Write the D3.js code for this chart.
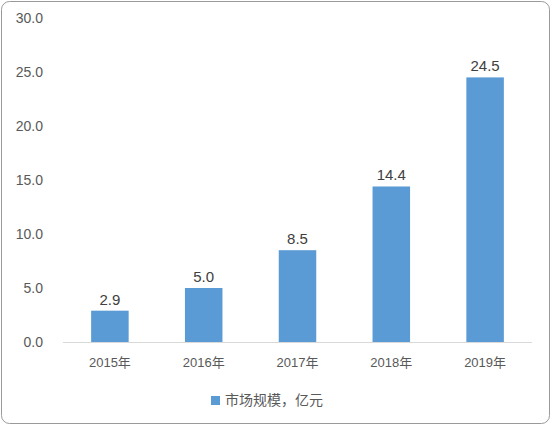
<!DOCTYPE html>
<html lang="zh">
<head>
<meta charset="UTF-8">
<script src="https://d3js.org/d3.v7.min.js"></script>
<style>
  body { margin: 0; background: #fff; }
  text { font-family: "Liberation Sans", "Noto Sans CJK SC", sans-serif; fill: #595959; }
</style>
</head>
<body>
<svg id="chart" width="552" height="426"></svg>
<script>
const years = ["2015年", "2016年", "2017年", "2018年", "2019年"];
const values = [2.9, 5.0, 8.5, 14.4, 24.5];
const yTicks = [0, 5, 10, 15, 20, 25, 30];
const seriesName = "市场规模，亿元";

const svg = d3.select("#chart");
svg.append("rect")
  .attr("x", 1.5).attr("y", 1.5)
  .attr("width", 548).attr("height", 422)
  .attr("rx", 8)
  .attr("fill", "#fff")
  .attr("stroke", "#9a9a9a");

const x = d3.scaleBand().domain(years).range([63, 532]).paddingInner(0.6).paddingOuter(0.3);
const y = d3.scaleLinear().domain([0, 30]).range([342, 18]);

// y labels
svg.append("g").selectAll("text")
  .data(yTicks).join("text")
  .attr("x", 43).attr("y", d => y(d) + 5)
  .attr("text-anchor", "end")
  .style("font-size", "14px")
  .text(d => d.toFixed(1));

// baseline
svg.append("line")
  .attr("x1", 63).attr("x2", 532)
  .attr("y1", y(0) + 0.5).attr("y2", y(0) + 0.5)
  .attr("stroke", "#d9d9d9");

// bars
svg.append("g").selectAll("rect")
  .data(values).join("rect")
  .attr("x", (d, i) => x(years[i]))
  .attr("y", d => y(d))
  .attr("width", x.bandwidth())
  .attr("height", d => y(0) - y(d))
  .attr("fill", "#5B9BD5");

// value labels
svg.append("g").selectAll("text")
  .data(values).join("text")
  .attr("x", (d, i) => x(years[i]) + x.bandwidth() / 2)
  .attr("y", d => y(d) - 6)
  .attr("text-anchor", "middle")
  .style("font-size", "15px")
  .style("fill", "#404040")
  .text(d => d.toFixed(1));

// x labels
svg.append("g").selectAll("text")
  .data(years).join("text")
  .attr("x", d => x(d) + x.bandwidth() / 2)
  .attr("y", 367)
  .attr("text-anchor", "middle")
  .style("font-size", "13px")
  .text(d => d);

// legend
svg.append("rect").attr("x", 211).attr("y", 396).attr("width", 9).attr("height", 9).attr("fill", "#5B9BD5");
svg.append("text").attr("x", 225).attr("y", 405).style("font-size", "14px").text(seriesName);
</script>
</body>
</html>
